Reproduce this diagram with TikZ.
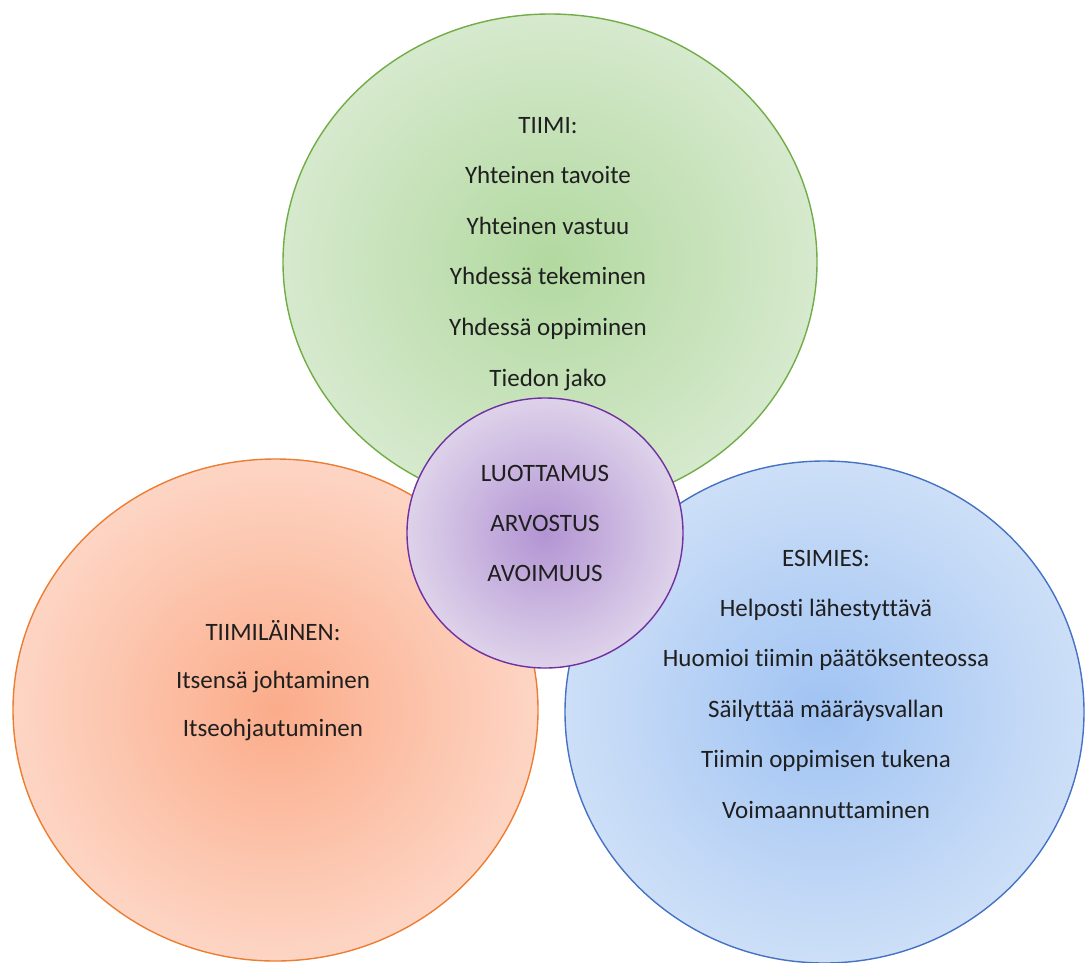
\documentclass[tikz,border=0pt]{standalone}
\usepackage{fontspec}
\setmainfont{Carlito}[Ligatures=CommonOff]
\usetikzlibrary{shapes.geometric}
\definecolor{grnE}{HTML}{D6E9CD}
\definecolor{grnC}{HTML}{B2D9A0}
\definecolor{grnL}{HTML}{70AD47}
\definecolor{orgE}{HTML}{FDD5C4}
\definecolor{orgC}{HTML}{FBAC8A}
\definecolor{orgL}{HTML}{ED7D31}
\definecolor{bluE}{HTML}{CDDFF7}
\definecolor{bluC}{HTML}{A0C3F3}
\definecolor{bluL}{HTML}{4472C4}
\definecolor{purE}{HTML}{DED2EA}
\definecolor{purC}{HTML}{B294D3}
\definecolor{purL}{HTML}{7030A0}
\tikzset{
  venn/.style={ellipse, line width=1.4pt, inner sep=0pt, outer sep=0pt},
  lbl/.style={font=\fontsize{25}{30}\selectfont, anchor=base, inner sep=0pt, text=black!88}
}
\begin{document}
\begin{tikzpicture}[x=1pt, y=-1pt]
\useasboundingbox (0,0) rectangle (1087,962);
\node[venn, draw=grnL, inner color=grnC, outer color=grnE, minimum width=534pt, minimum height=496pt] (tiimi) at (550,262) {};
\node[venn, draw=orgL, inner color=orgC, outer color=orgE, minimum width=525pt, minimum height=502pt] (tiimilainen) at (275.5,710) {};
\node[venn, draw=bluL, inner color=bluC, outer color=bluE, minimum width=519pt, minimum height=502pt] (esimies) at (824.5,712) {};
\node[venn, draw=purL, inner color=purC, outer color=purE, minimum width=276pt, minimum height=270pt] (arvot) at (545,533) {};
\foreach \t [count=\i from 0] in {TIIMI:, Yhteinen tavoite, Yhteinen vastuu, Yhdessä tekeminen, Yhdessä oppiminen, Tiedon jako}
  \node[lbl] (g\i) at (548,133+50.6*\i) {\t};
\foreach \t [count=\i from 0] in {TIIMILÄINEN:, Itsensä johtaminen, Itseohjautuminen}
  \node[lbl] (o\i) at (273,640+48*\i) {\t};
\foreach \t [count=\i from 0] in {ESIMIES:, Helposti lähestyttävä, Huomioi tiimin päätöksenteossa, Säilyttää määräysvallan, Tiimin oppimisen tukena, Voimaannuttaminen}
  \node[lbl] (b\i) at (826,566+50.4*\i) {\t};
\foreach \t [count=\i from 0] in {LUOTTAMUS, ARVOSTUS, AVOIMUUS}
  \node[lbl] (p\i) at (545,481+50*\i) {\t};
\end{tikzpicture}
\end{document}
